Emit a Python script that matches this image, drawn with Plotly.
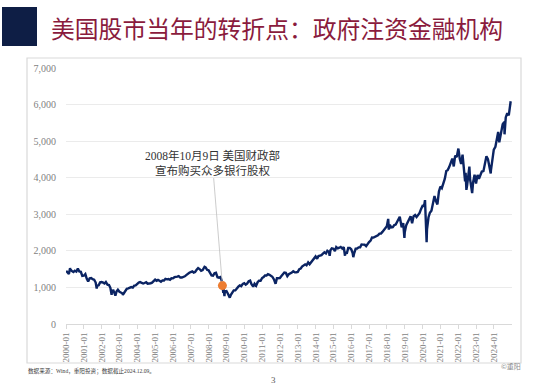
import plotly.graph_objects as go

# ---- data (S&P 500 level) ----
dates = [
    "2000-01-03", "2000-01-31", "2000-02-29", "2000-03-24", "2000-03-31", "2000-04-28", "2000-05-31", "2000-06-30",
    "2000-07-31", "2000-08-31", "2000-09-29", "2000-10-31", "2000-11-30", "2000-12-29",
    "2001-01-31", "2001-02-28", "2001-03-30", "2001-04-30", "2001-05-31", "2001-06-29",
    "2001-07-31", "2001-08-31", "2001-09-21", "2001-09-28", "2001-10-31", "2001-11-30", "2001-12-31",
    "2002-01-31", "2002-02-28", "2002-03-28", "2002-04-30", "2002-05-31", "2002-06-28",
    "2002-07-23", "2002-07-31", "2002-08-30", "2002-09-30", "2002-10-09", "2002-10-31", "2002-11-29", "2002-12-31",
    "2003-01-31", "2003-02-28", "2003-03-11", "2003-03-31", "2003-04-30", "2003-05-30", "2003-06-30",
    "2003-07-31", "2003-08-29", "2003-09-30", "2003-10-31", "2003-11-28", "2003-12-31",
    "2004-01-30", "2004-02-27", "2004-03-31", "2004-04-30", "2004-05-28", "2004-06-30",
    "2004-07-30", "2004-08-31", "2004-09-30", "2004-10-29", "2004-11-30", "2004-12-31",
    "2005-01-31", "2005-02-28", "2005-03-31", "2005-04-29", "2005-05-31", "2005-06-30",
    "2005-07-29", "2005-08-31", "2005-09-30", "2005-10-31", "2005-11-30", "2005-12-30",
    "2006-01-31", "2006-02-28", "2006-03-31", "2006-04-28", "2006-05-31", "2006-06-30",
    "2006-07-31", "2006-08-31", "2006-09-29", "2006-10-31", "2006-11-30", "2006-12-29",
    "2007-01-31", "2007-02-28", "2007-03-30", "2007-04-30", "2007-05-31", "2007-06-29",
    "2007-07-31", "2007-08-31", "2007-09-28", "2007-10-09", "2007-10-31", "2007-11-30", "2007-12-31",
    "2008-01-31", "2008-02-29", "2008-03-31", "2008-04-30", "2008-05-30", "2008-06-30",
    "2008-07-31", "2008-08-29", "2008-09-30", "2008-10-09", "2008-10-27", "2008-10-31",
    "2008-11-20", "2008-11-28", "2008-12-31",
    "2009-01-30", "2009-02-27", "2009-03-09", "2009-03-31", "2009-04-30", "2009-05-29", "2009-06-30",
    "2009-07-31", "2009-08-31", "2009-09-30", "2009-10-30", "2009-11-30", "2009-12-31",
    "2010-01-29", "2010-02-26", "2010-03-31", "2010-04-30", "2010-05-28", "2010-06-30",
    "2010-07-02", "2010-07-30", "2010-08-31", "2010-09-30", "2010-10-29", "2010-11-30", "2010-12-31",
    "2011-01-31", "2011-02-28", "2011-03-31", "2011-04-29", "2011-05-31", "2011-06-30",
    "2011-07-29", "2011-08-31", "2011-09-30", "2011-10-03", "2011-10-31", "2011-11-30", "2011-12-30",
    "2012-01-31", "2012-02-29", "2012-03-30", "2012-04-30", "2012-05-31", "2012-06-29",
    "2012-07-31", "2012-08-31", "2012-09-28", "2012-10-31", "2012-11-30", "2012-12-31",
    "2013-01-31", "2013-02-28", "2013-03-28", "2013-04-30", "2013-05-31", "2013-06-28",
    "2013-07-31", "2013-08-30", "2013-09-30", "2013-10-31", "2013-11-29", "2013-12-31",
    "2014-01-31", "2014-02-28", "2014-03-31", "2014-04-30", "2014-05-30", "2014-06-30",
    "2014-07-31", "2014-08-29", "2014-09-30", "2014-10-15", "2014-10-31", "2014-11-28", "2014-12-31",
    "2015-01-30", "2015-02-27", "2015-03-31", "2015-04-30", "2015-05-29", "2015-06-30",
    "2015-07-31", "2015-08-25", "2015-08-31", "2015-09-30", "2015-10-30", "2015-11-30", "2015-12-31",
    "2016-01-29", "2016-02-11", "2016-02-29", "2016-03-31", "2016-04-29", "2016-05-31", "2016-06-30",
    "2016-07-29", "2016-08-31", "2016-09-30", "2016-10-31", "2016-11-30", "2016-12-30",
    "2017-01-31", "2017-02-28", "2017-03-31", "2017-04-28", "2017-05-31", "2017-06-30",
    "2017-07-31", "2017-08-31", "2017-09-29", "2017-10-31", "2017-11-30", "2017-12-29",
    "2018-01-26", "2018-02-08", "2018-02-28", "2018-03-29", "2018-04-30", "2018-05-31", "2018-06-29",
    "2018-07-31", "2018-08-31", "2018-09-20", "2018-10-29", "2018-11-30", "2018-12-24", "2018-12-31",
    "2019-01-31", "2019-02-28", "2019-03-29", "2019-04-30", "2019-05-31", "2019-06-28",
    "2019-07-31", "2019-08-30", "2019-09-30", "2019-10-31", "2019-11-29", "2019-12-31",
    "2020-01-31", "2020-02-19", "2020-03-23", "2020-03-31", "2020-04-30", "2020-05-29", "2020-06-30",
    "2020-07-31", "2020-08-31", "2020-09-30", "2020-10-30", "2020-11-30", "2020-12-31",
    "2021-01-29", "2021-02-26", "2021-03-31", "2021-04-30", "2021-05-28", "2021-06-30",
    "2021-07-30", "2021-08-31", "2021-09-30", "2021-10-29", "2021-11-30", "2021-12-31",
    "2022-01-03", "2022-01-31", "2022-02-28", "2022-03-29", "2022-04-29", "2022-05-20", "2022-05-31",
    "2022-06-16", "2022-06-30", "2022-07-29", "2022-08-16", "2022-08-31", "2022-09-30", "2022-10-12",
    "2022-10-31", "2022-11-30", "2022-12-30",
    "2023-01-31", "2023-02-28", "2023-03-31", "2023-04-28", "2023-05-31", "2023-06-30",
    "2023-07-31", "2023-08-31", "2023-09-29", "2023-10-27", "2023-10-31", "2023-11-30", "2023-12-29",
    "2024-01-31", "2024-02-29", "2024-03-28", "2024-04-19", "2024-04-30", "2024-05-31", "2024-06-28",
    "2024-07-31", "2024-08-05", "2024-08-30", "2024-09-30", "2024-10-31", "2024-11-29", "2024-12-09",
]
values = [
    1455, 1394, 1366, 1527, 1499, 1452, 1421, 1455,
    1431, 1518, 1437, 1429, 1315, 1320,
    1366, 1240, 1160, 1249, 1256, 1224,
    1211, 1134, 966, 1041, 1060, 1139, 1148,
    1130, 1107, 1147, 1076, 1067, 990,
    797, 912, 916, 815, 777, 886, 936, 880,
    856, 841, 800, 848, 917, 964, 975,
    990, 1008, 996, 1051, 1058, 1112,
    1131, 1145, 1126, 1107, 1121, 1141,
    1102, 1104, 1115, 1130, 1174, 1212,
    1181, 1204, 1181, 1157, 1192, 1191,
    1234, 1220, 1229, 1207, 1249, 1248,
    1280, 1281, 1295, 1311, 1270, 1270,
    1277, 1304, 1336, 1378, 1401, 1418,
    1438, 1407, 1421, 1482, 1531, 1503,
    1455, 1474, 1527, 1565, 1549, 1481, 1468,
    1379, 1331, 1323, 1386, 1400, 1280,
    1267, 1283, 1165, 1050, 850, 969,
    760, 896, 903,
    826, 735, 720, 798, 873, 919, 919,
    987, 1021, 1057, 1036, 1096, 1115,
    1074, 1104, 1169, 1187, 1089, 1031,
    1022, 1102, 1049, 1141, 1183, 1181, 1258,
    1286, 1327, 1326, 1364, 1345, 1321,
    1292, 1219, 1131, 1099, 1253, 1247, 1258,
    1312, 1366, 1408, 1398, 1310, 1362,
    1379, 1407, 1441, 1412, 1416, 1426,
    1498, 1515, 1569, 1598, 1631, 1606,
    1686, 1633, 1682, 1757, 1806, 1848,
    1783, 1859, 1872, 1884, 1924, 1960,
    1931, 2003, 1972, 1862, 2018, 2068, 2059,
    1995, 2105, 2068, 2086, 2107, 2063,
    2104, 1867, 1972, 1920, 2079, 2080, 2044,
    1940, 1829, 1932, 2060, 2065, 2097, 2099,
    2174, 2171, 2168, 2126, 2199, 2239,
    2279, 2364, 2363, 2384, 2412, 2423,
    2470, 2472, 2519, 2575, 2648, 2674,
    2873, 2581, 2714, 2641, 2648, 2705, 2718,
    2816, 2902, 2931, 2641, 2760, 2351, 2507,
    2704, 2784, 2834, 2946, 2752, 2942,
    2980, 2926, 2977, 3038, 3141, 3231,
    3226, 3386, 2237, 2585, 2912, 3044, 3100,
    3271, 3500, 3363, 3270, 3622, 3756,
    3714, 3811, 3973, 4181, 4204, 4298,
    4395, 4523, 4308, 4605, 4567, 4766,
    4797, 4516, 4374, 4632, 4132, 3901, 4132,
    3667, 3785, 4130, 4305, 3955, 3586, 3577,
    3872, 4080, 3840,
    4077, 3970, 4109, 4169, 4180, 4450,
    4589, 4508, 4288, 4117, 4194, 4568, 4770,
    4846, 5096, 5254, 4967, 5036, 5278, 5460,
    5522, 5186, 5648, 5762, 5705, 6032, 6090,
]

event_date = ["2008-10-09"]
event_value = [1050]
event_text = "2008年10月9日 美国财政部<br>宣布购买众多银行股权"

tick_dates = [f"{y}-01-01" for y in range(2000, 2025)]
tick_labels = [f"{y}-01" for y in range(2000, 2025)]
y_ticks = [0, 1000, 2000, 3000, 4000, 5000, 6000, 7000]
y_labels = ["0", "1,000", "2,000", "3,000", "4,000", "5,000", "6,000", "7,000"]

title_text = "美国股市当年的转折点：政府注资金融机构"
source_text = "数据来源：Wind，重阳投资；数据截止2024.12.09。"

# ---- layout geometry (pixels) ----
W, H = 550, 385
L, R, T, B = 66, 38, 68, 61
pw, ph = W - L - R, H - T - B

def px(x):
    return (x - L) / pw

def py(y):
    return (H - B - y) / ph

SERIF = "Liberation Serif, Noto Sans CJK SC, serif"
CJK = "Noto Sans CJK SC, sans-serif"

fig = go.Figure()
fig.add_trace(go.Scatter(
    x=dates, y=values, mode="lines",
    line=dict(color="#0B2463", width=2.4),
    hoverinfo="skip", showlegend=False,
))
fig.add_trace(go.Scatter(
    x=event_date, y=event_value, mode="markers",
    marker=dict(color="#ED7D31", size=9),
    hoverinfo="skip", showlegend=False,
))

fig.add_annotation(
    x=event_date[0], y=event_value[0], xref="x", yref="y",
    text=event_text, showarrow=True, arrowhead=0, arrowwidth=0.8,
    arrowcolor="#bfbfbf", ax=-10, ay=-123, standoff=4,
    font=dict(family=SERIF, size=11.5, color="#333333"), align="center",
)

# chart frame
fig.add_shape(type="rect", xref="paper", yref="paper",
              x0=px(27), x1=px(521), y0=py(363), y1=py(58),
              line=dict(color="#d9d9d9", width=1.2), layer="below")
# title block
fig.add_shape(type="rect", xref="paper", yref="paper",
              x0=px(2), x1=px(37), y0=py(46), y1=py(7),
              line=dict(width=0), fillcolor="#0E1E45")
fig.add_annotation(xref="paper", yref="paper", x=px(49), y=py(27),
                   xanchor="left", yanchor="middle", showarrow=False,
                   text=title_text,
                   font=dict(family="Noto Sans CJK SC", size=23.8, color="#8A1B3D"))
fig.add_annotation(xref="paper", yref="paper", x=px(26), y=py(371),
                   xanchor="left", yanchor="middle", showarrow=False,
                   text=source_text,
                   font=dict(family=SERIF, size=5.6, color="#404040"))
fig.add_annotation(xref="paper", yref="paper", x=px(273), y=py(380),
                   xanchor="center", yanchor="middle", showarrow=False,
                   text="3", font=dict(family=SERIF, size=9, color="#595959"))
fig.add_annotation(xref="paper", yref="paper", x=px(523), y=py(366),
                   xanchor="right", yanchor="middle", showarrow=False,
                   text="©重阳", font=dict(family=CJK, size=7, color="#8c8c8c"))

fig.update_layout(
    width=W, height=H,
    margin=dict(l=L, r=R, t=T, b=B, pad=0),
    paper_bgcolor="white", plot_bgcolor="white",
    xaxis=dict(
        type="date", range=["2000-01-01", "2025-01-05"],
        tickmode="array", tickvals=tick_dates, ticktext=tick_labels,
        tickangle=-90, ticks="outside", ticklen=4, tickcolor="#d9d9d9",
        showline=True, linecolor="#d9d9d9", linewidth=1,
        showgrid=False, zeroline=False,
        tickfont=dict(family=SERIF, size=9, color="#7f7f7f"),
    ),
    yaxis=dict(
        range=[0, 7000], tickmode="array", tickvals=y_ticks, ticktext=y_labels,
        showgrid=True, gridcolor="#ebebeb", gridwidth=1,
        zeroline=False, showline=False, ticks="",
        ticklabelstandoff=9,
        tickfont=dict(family=SERIF, size=10, color="#7f7f7f"),
    ),
)

fig.write_html(
    "out.html",
    config={"displayModeBar": False},
    post_script="document.body.style.margin='0';document.body.style.overflow='hidden';",
)
